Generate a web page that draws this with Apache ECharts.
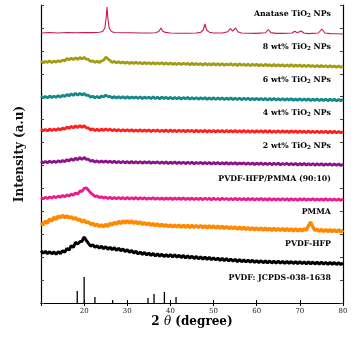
<!DOCTYPE html>
<html>
<head>
<meta charset="utf-8">
<script src="https://cdn.jsdelivr.net/npm/echarts@6/dist/echarts.min.js"></script>
<style>html,body{margin:0;padding:0;background:#fff}#c{width:359px;height:340px}</style>
</head>
<body>
<div id="c"></div>
<script>
// 2θ grid shared by the noisy patterns
const twoTheta = [
10,10.5,11,11.5,12,12.5,13,13.5,14,14.5,
15,15.5,16,16.5,17,17.5,18,18.5,19,19.5,
20,20.5,21,21.5,22,22.5,23,23.5,24,24.5,
25,25.5,26,26.5,27,27.5,28,28.5,29,29.5,
30,30.5,31,31.5,32,32.5,33,33.5,34,34.5,
35,35.5,36,36.5,37,37.5,38,38.5,39,39.5,
40,40.5,41,41.5,42,42.5,43,43.5,44,44.5,
45,45.5,46,46.5,47,47.5,48,48.5,49,49.5,
50,50.5,51,51.5,52,52.5,53,53.5,54,54.5,
55,55.5,56,56.5,57,57.5,58,58.5,59,59.5,
60,60.5,61,61.5,62,62.5,63,63.5,64,64.5,
65,65.5,66,66.5,67,67.5,68,68.5,69,69.5,
70,70.5,71,71.5,72,72.5,73,73.5,74,74.5,
75,75.5,76,76.5,77,77.5,78,78.5,79,79.5,
80];

// Anatase TiO2 NPs (own sampling around peaks)
const anataseTheta = [10,12,14,16,18,20,22,23.5,24.3,24.8,25.1,25.3,25.5,25.8,26.3,27,29,31,33,35,36.5,37.3,37.8,38.2,38.8,40,42,44,46,47,47.6,48,48.4,49,50,52,53.3,53.9,54.4,55.1,55.7,56.5,58,60,62,62.7,63.3,64.5,66,68.2,68.8,69.4,70.3,70.9,72,74.3,75.1,75.8,77,78.5,80];
const anatase = [270,270.5,270,270.5,270.3,270.5,270.4,270.8,271.5,275,285,296,285,275,271.5,270.5,270.3,270.2,270,270,270.3,271.5,275,272,270.6,270,269.8,269.8,270,270.6,273,279,273,270.8,270,270,271.2,274.5,271.8,275,271,270,269.8,269.6,270.2,273.5,270.4,269.6,269.6,270,271.8,270.2,272,270,269.4,270,274,270,269.4,269.2,269];

const wt8 = [
241.8,240.2,241.5,240.6,242.1,240.4,241.9,240.8,242.4,241.2,
243.0,242.0,244.6,243.1,244.8,243.4,245.2,243.6,245.5,244.0,
245.6,243.8,243.6,241.5,242.2,240.6,241.8,240.5,242.0,242.8,
245.8,244.2,242.4,240.6,241.7,240.1,241.4,239.8,241.2,239.6,
241.0,239.4,240.9,239.3,240.8,239.5,240.6,239.0,240.7,239.2,
240.4,238.9,240.5,238.8,240.2,239.1,240.3,238.6,240.1,238.7,
240.2,238.5,239.9,238.4,240.0,238.3,239.8,238.6,239.7,238.2,
239.9,238.1,239.6,238.3,239.5,237.9,239.8,238.0,239.4,237.8,
239.6,237.9,239.3,237.7,239.5,237.6,239.2,237.8,239.4,237.5,
239.1,237.4,239.3,237.6,238.9,237.3,239.0,237.2,238.8,237.4,
238.9,237.1,238.6,237.0,238.8,237.2,238.5,236.9,238.6,236.8,
238.4,237.0,238.3,236.7,238.2,236.6,238.4,236.5,238.0,236.7,
238.1,236.4,237.9,236.3,237.8,236.5,237.6,236.2,237.7,236.0,
237.5,236.1,237.4,235.9,237.3,235.8,237.2,235.7,237.0,235.6,
236.9];

const wt6 = [
206.8,205.2,206.6,205.0,207.1,205.4,206.9,205.6,207.3,205.8,
207.8,206.4,208.6,207.0,209.3,207.5,209.8,207.8,209.6,208.0,
209.5,207.6,207.8,205.9,206.8,205.2,206.6,205.1,206.9,206.0,
208.0,206.4,206.6,205.0,206.5,204.8,206.4,204.9,206.3,204.7,
206.3,204.6,206.2,204.8,206.1,204.5,206.2,204.4,206.0,204.6,
205.9,204.3,206.1,204.4,205.8,204.2,205.9,204.5,205.7,204.1,
205.8,204.0,205.6,204.2,205.7,203.9,205.5,204.1,205.6,203.8,
205.4,203.9,205.5,203.7,205.3,203.8,205.4,203.6,205.2,203.7,
205.3,203.5,205.1,203.6,205.2,203.4,205.0,203.5,205.1,203.3,
204.9,203.4,205.0,203.2,204.8,203.3,204.9,203.1,204.7,203.2,
204.8,203.0,204.6,203.1,204.7,202.9,204.5,203.0,204.6,202.8,
204.4,202.9,204.5,202.7,204.3,202.8,204.4,202.6,204.2,202.7,
204.3,202.5,204.1,202.6,204.2,202.4,204.0,202.5,204.1,202.3,
203.9,202.4,204.0,202.2,203.8,202.3,203.9,202.1,203.7,202.2,
203.8];

const wt4 = [
173.8,172.2,173.6,172.0,174.1,172.4,174.0,172.6,174.5,173.0,
175.0,173.6,176.2,174.6,176.8,175.0,177.2,175.4,177.5,175.6,
177.3,175.2,175.0,173.0,174.2,172.4,173.8,172.2,174.0,172.5,
174.2,172.6,174.0,172.3,173.6,172.0,173.5,171.9,173.4,172.0,
173.3,171.8,173.4,171.6,173.2,171.7,173.3,171.5,173.1,171.6,
173.2,171.4,173.0,171.6,173.1,171.3,172.9,171.5,173.0,171.2,
173.1,171.3,172.9,171.2,173.0,171.4,172.8,171.1,172.9,171.3,
172.8,171.0,172.9,171.2,172.7,171.1,172.8,170.9,172.6,171.1,
172.7,170.9,172.8,171.0,172.6,170.8,172.7,171.0,172.5,170.9,
172.6,170.7,172.5,170.9,172.6,170.8,172.4,170.7,172.5,170.6,
172.4,170.8,172.5,170.6,172.3,170.7,172.4,170.5,172.2,170.7,
172.3,170.5,172.4,170.6,172.2,170.4,172.3,170.6,172.1,170.4,
172.2,170.5,172.0,170.3,172.1,170.4,171.9,170.3,172.0,170.2,
171.9,170.3,172.0,170.1,171.8,170.2,171.9,170.0,171.7,170.1,
171.6];

const wt2 = [
141.8,140.2,141.6,140.1,142.0,140.4,141.9,140.5,142.3,140.8,
142.6,141.3,143.4,142.0,144.2,142.6,144.8,143.2,145.4,143.5,
145.6,143.6,143.8,141.8,142.6,140.9,142.2,140.6,142.0,140.8,
142.1,140.5,141.9,140.3,141.8,140.2,141.7,140.1,141.6,140.0,
141.5,139.9,141.6,139.8,141.4,139.9,141.5,139.7,141.3,139.8,
141.4,139.6,141.2,139.8,141.3,139.5,141.1,139.7,141.2,139.4,
141.0,139.5,141.1,139.3,140.9,139.4,141.0,139.2,140.8,139.4,
140.9,139.1,140.7,139.3,140.8,139.0,140.6,139.2,140.7,138.9,
140.5,139.0,140.6,138.8,140.4,139.0,140.5,138.7,140.3,138.9,
140.4,138.6,140.2,138.8,140.3,138.5,140.1,138.7,140.2,138.4,
140.0,138.5,140.1,138.3,139.9,138.4,140.0,138.2,139.8,138.4,
139.9,138.1,139.7,138.3,139.8,138.0,139.6,138.2,139.7,137.9,
139.5,138.0,139.6,137.8,139.4,137.9,139.5,137.7,139.3,137.9,
139.4,137.6,139.2,137.8,139.3,137.5,139.1,137.7,139.2,137.4,
138.9];

const blend = [
105.6,104.0,105.8,104.3,106.2,104.8,106.6,105.2,107.0,105.6,
107.6,106.0,108.2,106.8,109.0,107.6,110.2,108.8,112.0,111.6,
114.6,115.2,112.8,110.0,108.6,106.4,107.2,105.4,106.3,104.8,
106.0,104.4,105.8,104.2,105.7,104.1,105.6,104.0,105.5,103.9,
105.6,103.8,105.4,104.0,105.5,103.7,105.3,103.9,105.4,103.6,
105.2,103.8,105.3,103.6,105.1,103.7,105.2,103.5,105.0,103.7,
105.1,103.4,105.2,103.6,105.0,103.5,105.1,103.3,104.9,103.5,
105.0,103.3,104.8,103.5,104.9,103.2,105.0,103.4,104.8,103.2,
104.9,103.3,104.7,103.1,104.8,103.4,104.6,103.2,104.7,103.0,
104.8,103.1,104.6,103.2,104.7,103.0,104.5,103.2,104.6,102.9,
104.5,103.1,104.6,102.9,104.4,103.0,104.5,102.8,104.3,103.0,
104.4,102.8,104.5,102.9,104.3,102.7,104.4,102.9,104.2,102.7,
104.3,102.8,104.4,102.6,104.2,102.8,104.3,102.6,104.1,102.8,
104.2,102.6,104.3,102.7,104.1,102.5,104.2,102.7,104.0,102.5,
104.1];

const pmma = [
80.2,78.0,82.0,79.6,84.2,81.8,86.0,83.4,87.2,85.0,
87.8,85.2,87.4,84.8,86.4,83.8,85.3,82.8,83.8,81.2,
82.8,80.2,81.2,78.6,79.8,77.2,78.8,76.4,78.2,76.0,
78.8,76.4,79.8,77.6,80.8,78.6,81.8,79.4,82.2,80.0,
82.4,80.0,82.2,79.6,81.6,79.2,81.2,78.6,80.4,78.2,
80.0,77.6,79.6,77.2,79.2,76.8,78.8,76.6,78.4,76.2,
78.2,75.8,78.1,75.9,78.0,75.6,77.9,75.7,77.8,75.4,
77.8,75.3,77.6,75.4,77.5,75.2,77.4,75.0,77.3,75.1,
77.2,74.8,77.0,74.7,76.9,74.5,76.6,74.3,76.4,74.1,
76.2,73.8,76.0,73.6,75.8,73.4,75.6,73.2,75.4,73.0,
75.2,72.8,75.1,72.7,75.0,72.6,74.9,72.5,74.8,72.4,
74.7,72.3,74.6,72.2,74.5,72.1,74.4,72.0,74.3,71.9,
74.2,71.8,74.4,72.6,77.2,81.0,76.2,72.6,73.8,71.6,
73.7,71.4,73.6,71.3,73.5,71.2,73.4,71.1,73.3,71.0,
73.0];

const pvdfHfp = [
52.2,49.8,51.6,49.4,51.3,49.2,51.0,48.8,51.4,49.5,
52.4,50.6,54.6,52.8,57.4,55.6,60.8,59.0,61.2,61.8,
66.0,62.6,59.6,56.8,58.4,55.6,57.2,54.8,56.8,54.2,
56.4,53.6,55.8,53.2,55.4,52.6,54.8,52.2,54.0,51.4,
53.4,50.6,52.6,49.8,51.8,49.0,51.0,48.6,50.6,48.0,
50.0,47.6,49.6,47.0,49.2,46.8,48.8,46.4,48.4,46.2,
48.6,46.0,48.2,45.8,47.8,45.4,47.6,45.0,47.2,44.8,
46.8,44.4,46.6,44.2,46.2,43.8,46.0,43.6,45.6,43.4,
45.2,43.0,45.0,42.6,44.6,42.4,44.4,42.0,44.0,41.8,
43.6,41.4,43.4,41.2,43.2,41.0,43.0,40.8,42.8,40.6,
42.4,40.4,42.3,40.2,42.2,40.1,42.0,40.0,41.9,39.9,
41.8,39.8,41.7,39.7,41.6,39.6,41.5,39.5,41.4,39.4,
41.3,39.3,41.2,39.2,41.1,39.1,41.0,39.0,40.9,38.9,
40.8,38.8,40.7,38.7,40.6,38.6,40.5,38.5,40.4,38.4,
40.2];

// PVDF reference pattern JCPDS 038-1638 (stick positions / heights)
const jcpdsTheta = [18.4,20.0,22.5,26.6,34.8,36.2,38.6,41.3];
const jcpdsHeight = [12,26,6,3,5,9,11,6];

// Curve labels and where they sit (arbitrary intensity units)
const labelTexts = [
  ['Anatase TiO','2',' NPs'],
  ['8 wt% TiO','2',' NPs'],
  ['6 wt% TiO','2',' NPs'],
  ['4 wt% TiO','2',' NPs'],
  ['2 wt% TiO','2',' NPs'],
  ['PVDF-HFP/PMMA (90:10)'],
  ['PMMA'],
  ['PVDF-HFP'],
  ['PVDF: JCPDS-038-1638']
];
const labelLevels = [289,256,223,190,157,124,91,59,25];
const labelAnchorTheta = 77.2;

const colors = {
  anatase:'#c8185c', wt8:'#a39c12', wt6:'#14898a', wt4:'#ff1f1f',
  wt2:'#8a138a', blend:'#ec1a8c', pmma:'#ff8a00', pvdfHfp:'#000000'
};

const zip = (xs, ys) => xs.map((x,i)=>[x, ys[i]]);
const FONT = '"DejaVu Serif", "Liberation Serif", serif';

function lineSeries(name, xs, ys, color, w){
  return {name, type:'line', data: zip(xs, ys), showSymbol:false, symbol:'none',
    lineStyle:{color, width:w}, itemStyle:{color}, silent:true, animation:false, z:3};
}

const chart = echarts.init(document.getElementById('c'), null, {renderer:'canvas'});
const axisCommon = {
  axisLine:{show:true, lineStyle:{color:'#000', width:1.2}},
  splitLine:{show:false}
};
chart.setOption({
  animation:false,
  backgroundColor:'#fff',
  grid:{left:41, right:16, top:5, bottom:37},
  xAxis:[
    Object.assign({type:'value', min:10, max:80, interval:10, position:'bottom',
      axisTick:{show:true, inside:true, length:3, lineStyle:{color:'#000'}},
      axisLabel:{fontFamily:FONT, fontSize:7, color:'#222', margin:5,
        formatter:v => v===10 ? '' : String(v)}}, axisCommon),
    Object.assign({type:'value', min:10, max:80, interval:10, position:'top',
      axisTick:{show:true, inside:true, length:3, lineStyle:{color:'#000'}},
      axisLabel:{show:false}}, axisCommon)
  ],
  yAxis:[
    Object.assign({type:'value', min:0, max:298, interval:298/13, position:'left',
      axisTick:{show:true, inside:true, length:3, lineStyle:{color:'#444'}},
      axisLabel:{show:false}}, axisCommon),
    Object.assign({type:'value', min:0, max:298, interval:298/13, position:'right',
      axisTick:{show:true, inside:true, length:3, lineStyle:{color:'#444'}},
      axisLabel:{show:false}}, axisCommon)
  ],
  series:[
    lineSeries('Anatase', anataseTheta, anatase, colors.anatase, 1.1),
    lineSeries('8wt', twoTheta, wt8, colors.wt8, 2.8),
    lineSeries('6wt', twoTheta, wt6, colors.wt6, 2.8),
    lineSeries('4wt', twoTheta, wt4, colors.wt4, 2.8),
    lineSeries('2wt', twoTheta, wt2, colors.wt2, 2.8),
    lineSeries('blend', twoTheta, blend, colors.blend, 2.8),
    lineSeries('pmma', twoTheta, pmma, colors.pmma, 3.4),
    lineSeries('pvdfhfp', twoTheta, pvdfHfp, colors.pvdfHfp, 3.0),
    {name:'JCPDS', type:'bar', data: zip(jcpdsTheta, jcpdsHeight), barWidth:1.3,
      itemStyle:{color:'#000'}, silent:true, animation:false, z:2}
  ]
});

// labels positioned via axis coordinates
const graphics = [];
labelTexts.forEach((parts, i) => {
  const p = chart.convertToPixel({gridIndex:0}, [labelAnchorTheta, labelLevels[i]]);
  let text;
  if (parts.length === 3) {
    text = '{a|' + parts[0] + '}{s|' + parts[1] + '}{a|' + parts[2] + '}';
  } else {
    text = '{a|' + parts[0] + '}';
  }
  const rich = {
    a:{fontFamily:FONT, fontSize:7.8, fontWeight:'bold', color:'#111', lineHeight:10},
    s:{fontFamily:FONT, fontSize:5.6, fontWeight:'bold', color:'#111', lineHeight:10, padding:[4,0,0,0]}
  };
  graphics.push({type:'text', x:p[0], y:p[1], style:{text, rich, align:'right', verticalAlign:'middle'}, z:10});
});
const xMid = chart.convertToPixel({xAxisIndex:0}, 45);
graphics.push({type:'text', x:xMid, y:322,
  style:{text:'{b|2 }{i|θ}{b| (degree)}', align:'center', verticalAlign:'middle',
    rich:{b:{fontFamily:FONT, fontSize:12, fontWeight:'bold', color:'#111'},
          i:{fontFamily:FONT, fontSize:12, fontStyle:'italic', color:'#111'}}}, z:10});
const yMid = chart.convertToPixel({yAxisIndex:0}, 149);
graphics.push({type:'text', x:20, y:yMid, rotation:Math.PI/2,
  style:{text:'Intensity (a.u)', align:'center', verticalAlign:'middle',
    fontFamily:FONT, fontSize:12, fontWeight:'bold', fill:'#111'}, z:10});
chart.setOption({graphic:graphics});
</script>
</body>
</html>
